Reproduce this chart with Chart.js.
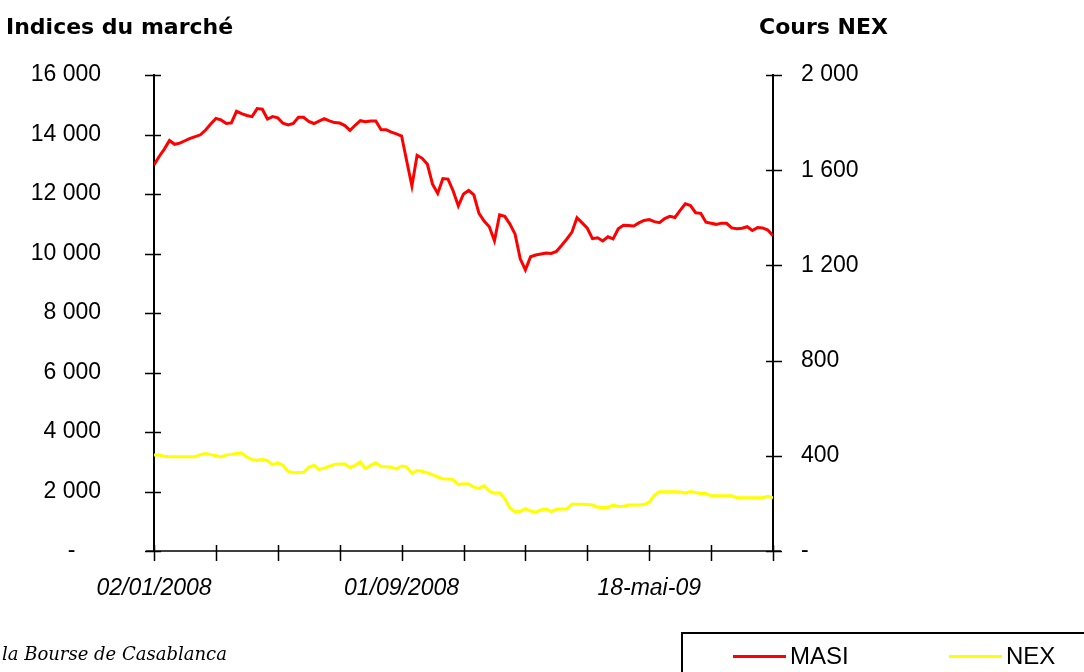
<!DOCTYPE html>
<html>
<head>
<meta charset="utf-8">
<script src="https://cdn.jsdelivr.net/npm/chart.js@4/dist/chart.umd.min.js"></script>
<style>
  body { margin: 0; background: #fff; }
  #wrap { position: relative; width: 1084px; height: 672px; overflow: hidden; }
  .axisTitle { position: absolute; font: bold 22px "DejaVu Sans", sans-serif; color: #000; }
  #source { position: absolute; left: 2px; top: 643px; font: italic 18px "DejaVu Serif", serif; color: #000; }
  #legend { position: absolute; left: 681px; top: 632px; width: 500px; height: 80px; border: 2px solid #000; box-sizing: border-box; }
  .item { position: absolute; top: 8px; font: 24px "Liberation Sans", Arial, sans-serif; display: flex; align-items: center; }
  .item span.swatch { display: inline-block; width: 53px; height: 3px; margin-right: 4px; }
</style>
</head>
<body>
<div id="wrap">
  <canvas id="chart"></canvas>
  <div class="axisTitle" style="left:6px;top:14px">Indices du marché</div>
  <div class="axisTitle" style="left:759px;top:14px">Cours NEX</div>
  <div id="source">la Bourse de Casablanca</div>
  <div id="legend"></div>
</div>
<script>
// x ticks every 12 points, label every 4th tick
const tickLabels = ['02/01/2008', '', '', '', '01/09/2008', '', '', '', '18-mai-09', '', ''];

// MASI (left axis)
const masi = [
  12980, 13260, 13510, 13800, 13670, 13710, 13790, 13870, 13930, 13990,
  14150, 14350, 14540, 14490, 14370, 14390, 14780, 14700, 14640, 14600,
  14870, 14850, 14520, 14600, 14560, 14380, 14320, 14370, 14577, 14577,
  14440, 14370, 14450, 14530, 14460, 14400, 14385, 14300, 14140, 14310,
  14464, 14430, 14454, 14454, 14170, 14160, 14080, 14020, 13950, 13100,
  12270, 13300, 13200, 13000, 12330, 12020, 12520, 12500, 12100, 11600,
  12000, 12120, 11970, 11350, 11090, 10900, 10430, 11300, 11250, 10990,
  10650, 9820, 9450, 9890, 9950, 9985, 10020, 10000, 10070, 10270,
  10480, 10710, 11200, 11030, 10850, 10500, 10530, 10420, 10560, 10490,
  10830, 10950, 10940, 10925, 11030, 11110, 11140, 11070, 11037, 11175,
  11250, 11210, 11450, 11670, 11610, 11370, 11350, 11050, 11015, 10980,
  11020, 11015, 10860, 10830, 10850, 10900, 10775, 10870, 10860, 10790,
  10600
];

// NEX (right axis)
const nex = [
  403, 403, 398, 396, 396, 396, 396, 396, 396, 405,
  410, 405, 400, 395, 404, 406, 410, 412, 395, 385,
  380, 385, 380, 363, 370, 360, 334, 329, 330, 331,
  352, 360, 343, 348, 356, 364, 366, 366, 351, 360,
  374, 346, 360, 371, 355, 354, 352, 345, 357, 353,
  326, 338, 335, 328, 321, 311, 304, 303, 300, 279,
  283, 282, 268, 263, 274, 252, 243, 245, 220, 180,
  165, 167, 178, 168, 163, 172, 176, 166, 175, 176,
  176, 196, 196, 196, 195, 193, 184, 183, 183, 193,
  187, 188, 193, 193, 193, 195, 205, 234, 249, 249,
  249, 249, 248, 243, 250, 246, 242, 242, 232, 232,
  232, 232, 232, 224, 224, 224, 224, 224, 224, 230,
  224
];

// accounting style: thousands with a space, zero shown as a dash
const thousands = v => String(v).replace(/\B(?=(\d{3})+(?!\d))/g, ' ');
const tickFont = { family: '"Liberation Sans", Arial, sans-serif', size: 23 };

// ticks crossing the axis lines, like the spreadsheet chart
const crossTicks = {
  id: 'crossTicks',
  afterDraw(chart) {
    const ctx = chart.ctx;
    const { x, y, y1 } = chart.scales;
    ctx.save();
    ctx.strokeStyle = '#000';
    ctx.lineWidth = 1.5;
    ctx.beginPath();
    x.ticks.forEach(t => {
      const p = Math.round(x.getPixelForValue(t.value)) + 0.5;
      ctx.moveTo(p, x.top - 6); ctx.lineTo(p, x.top + 10);
    });
    ctx.moveTo(x.left - 8, x.top); ctx.lineTo(x.right + 8, x.top);
    y.ticks.forEach(t => {
      const p = Math.round(y.getPixelForValue(t.value)) + 0.5;
      ctx.moveTo(y.right - 9, p); ctx.lineTo(y.right + 7, p);
    });
    y1.ticks.forEach(t => {
      const p = Math.round(y1.getPixelForValue(t.value)) + 0.5;
      ctx.moveTo(y1.left - 7, p); ctx.lineTo(y1.left + 9, p);
    });
    ctx.stroke();
    ctx.restore();
  }
};

const chart = new Chart(document.getElementById('chart'), {
  type: 'line',
  data: {
    datasets: [{
      label: 'MASI',
      data: masi.map((v, i) => ({ x: i, y: v })),
      borderColor: '#ff0000',
      backgroundColor: '#ff0000',
      borderWidth: 3,
      pointRadius: 0,
      yAxisID: 'y'
    }, {
      label: 'NEX',
      data: nex.map((v, i) => ({ x: i, y: v })),
      borderColor: '#ffff00',
      backgroundColor: '#ffff00',
      borderWidth: 3,
      pointRadius: 0,
      yAxisID: 'y1'
    }]
  },
  options: {
    responsive: true,
    maintainAspectRatio: false,
    animation: false,
    layout: { padding: { top: 75, left: 0, right: 0, bottom: 0 } },
    plugins: { legend: { display: false }, tooltip: { enabled: false } },
    scales: {
      x: {
        type: 'linear', min: 0, max: 120,
        afterFit: s => { s.height = 121; },
        grid: { display: false, drawTicks: true, tickLength: 10 },
        border: { display: false },
        ticks: {
          stepSize: 12, autoSkip: false, maxRotation: 0, padding: 14,
          color: '#000', font: { ...tickFont, style: 'italic' },
          callback: v => tickLabels[Math.round(v / 12)]
        }
      },
      y: {
        position: 'left', min: 0, max: 16000,
        afterFit: s => { s.width = 154; },
        grid: { display: false, drawTicks: true, tickLength: 10 },
        border: { display: true, color: '#000', width: 2 },
        ticks: {
          stepSize: 2000, padding: 43, color: '#000', font: tickFont,
          callback: v => v === 0 ? '-\u2007\u2007' : thousands(v)
        }
      },
      y1: {
        position: 'right', min: 0, max: 2000,
        afterFit: s => { s.width = 311; },
        grid: { display: false, drawTicks: true, tickLength: 10 },
        border: { display: true, color: '#000', width: 2 },
        ticks: {
          stepSize: 400, padding: 18, color: '#000', font: tickFont,
          callback: v => v === 0 ? '-' : thousands(v)
        }
      }
    }
  },
  plugins: [crossTicks]
});

// legend box built from the datasets
const lefts = [50, 266];
document.getElementById('legend').innerHTML = chart.data.datasets.map((d, i) =>
  `<div class="item" style="left:${lefts[i]}px"><span class="swatch" style="background:${d.borderColor}"></span>${d.label}</div>`
).join('');
</script>
</body>
</html>
